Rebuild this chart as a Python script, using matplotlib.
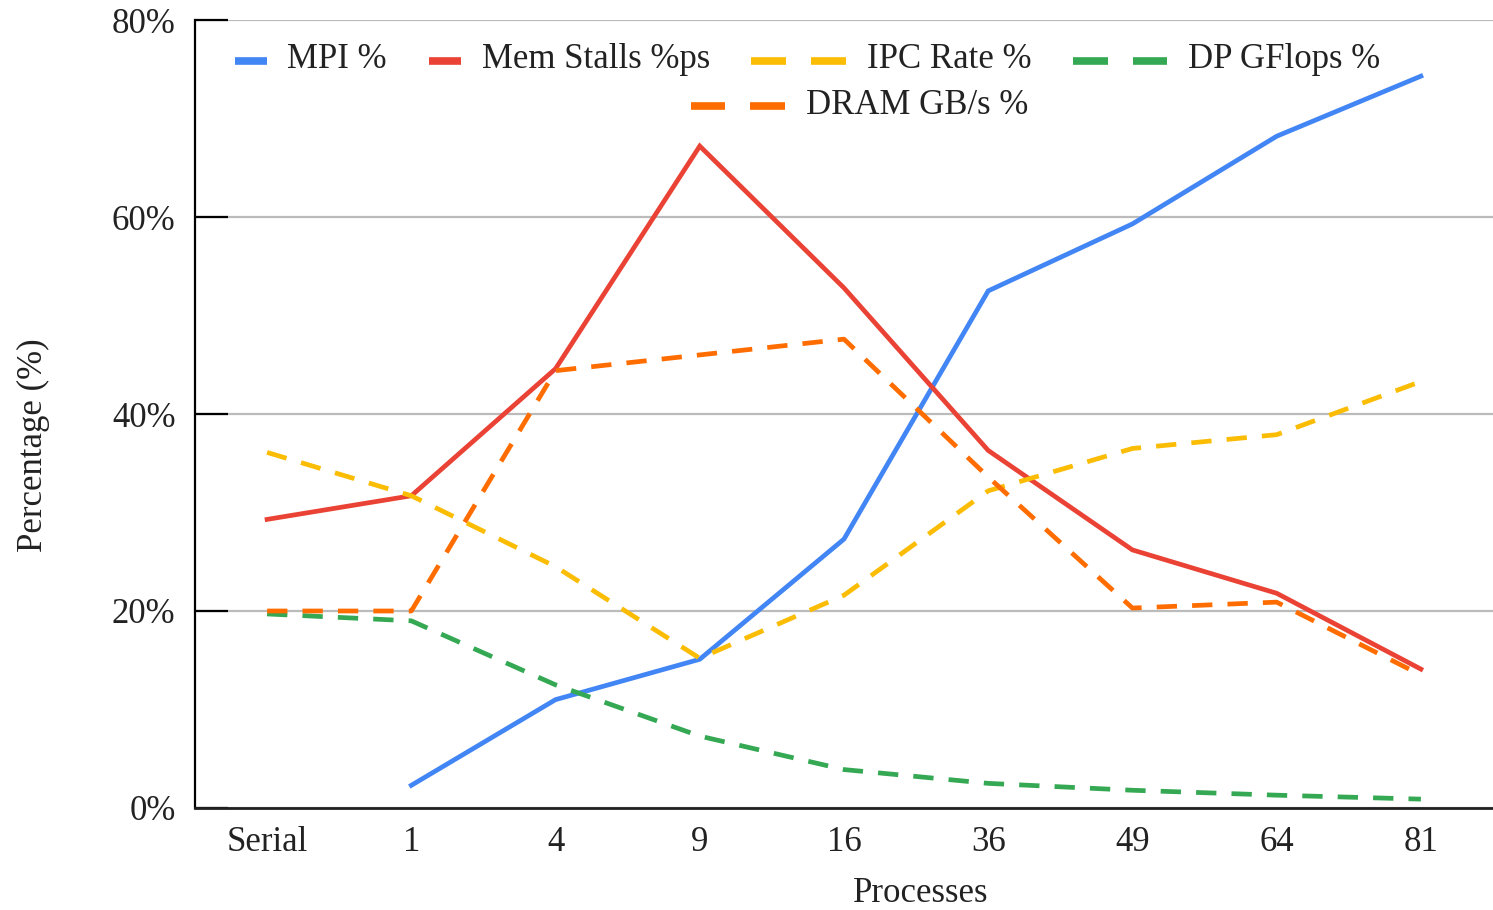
import matplotlib
matplotlib.use("Agg")
import matplotlib.pyplot as plt
import numpy as np
from matplotlib.lines import Line2D
from matplotlib.offsetbox import (AnchoredOffsetbox, DrawingArea, HPacker,
                                  TextArea)

plt.rcParams['font.family'] = ['Liberation Serif', 'DejaVu Serif']

# data
processes = ['Serial', '1', '4', '9', '16', '36', '49', '64', '81']
mpi = [np.nan, 2.3, 11.0, 15.1, 27.3, 52.5, 59.3, 68.2, 74.3]
mem_stalls = [29.3, 31.7, 44.6, 67.2, 52.8, 36.3, 26.2, 21.8, 14.1]
ipc_rate = [36.1, 31.7, 24.5, 15.2, 21.6, 32.2, 36.5, 37.9, 43.3]
dp_gflops = [19.7, 19.0, 12.5, 7.3, 3.9, 2.5, 1.8, 1.3, 0.9]
dram = [20.0, 20.0, 44.4, 46.0, 47.6, 33.6, 20.3, 20.9, 13.5]

series = [
    ('MPI %', mpi, '#4285f4', False),
    ('Mem Stalls %ps', mem_stalls, '#ea4335', False),
    ('IPC Rate %', ipc_rate, '#fbbc04', True),
    ('DP GFlops %', dp_gflops, '#34a853', True),
    ('DRAM GB/s %', dram, '#ff6d01', True),
]

fig = plt.figure(figsize=(14.93, 9.10), dpi=100)
ax = fig.add_axes([0.1306, 0.1121, 0.8694, 0.8659])

x = np.arange(len(processes))
for label, vals, color, dashed in series:
    ls = (0, (4.3, 3.2)) if dashed else '-'
    ax.plot(x, vals, color=color, lw=3.4, linestyle=ls,
            dash_capstyle='butt', solid_joinstyle='miter', zorder=3)

ax.set_xlim(-0.5, len(processes) - 0.5)
ax.set_ylim(0, 80)
ax.set_yticks([0, 20, 40, 60, 80])
ax.set_yticklabels(['0%', '20%', '40%', '60%', '80%'])
ax.set_xticks(x)
ax.set_xticklabels(processes)

ax.grid(axis='y', color='#bbbbbb', lw=1.6, zorder=1)
ax.set_axisbelow(True)
ax.tick_params(axis='y', direction='in', length=24, width=1.6, color='black',
               labelsize=25, pad=14, labelcolor='#222222')
ax.tick_params(axis='x', length=0, labelsize=25, pad=13, labelcolor='#222222')

for side in ['top', 'right']:
    ax.spines[side].set_visible(False)
ax.spines['left'].set_linewidth(1.6)
ax.spines['bottom'].set_linewidth(2.0)
ax.spines['left'].set_color('black')
ax.spines['bottom'].set_color('#222222')

ax.set_xlabel('Processes', fontsize=25, color='#222222')
ax.xaxis.set_label_coords(0.559, -0.087)
ax.set_ylabel('Percentage (%)', fontsize=25, color='#222222')
ax.yaxis.set_label_coords(-0.112, 0.46)


# legend built by hand so solid items get a short key and dashed ones two dashes
def legend_item(label, color, dashed):
    if dashed:
        da = DrawingArea(68, 12, 0, 0)
        da.add_artist(Line2D([0, 25], [5, 5], color=color, lw=5.5,
                             solid_capstyle='butt'))
        da.add_artist(Line2D([43, 68], [5, 5], color=color, lw=5.5,
                             solid_capstyle='butt'))
    else:
        da = DrawingArea(23, 12, 0, 0)
        da.add_artist(Line2D([0, 23], [5, 5], color=color, lw=5.5,
                             solid_capstyle='butt'))
    txt = TextArea(label, textprops=dict(fontsize=25, color='#222222'))
    return HPacker(children=[da, txt], align='center', pad=0, sep=15)


row1 = HPacker(children=[legend_item(l, c, d) for l, _, c, d in series[:4]],
               align='center', pad=0, sep=30)
row2 = HPacker(children=[legend_item(l, c, d) for l, _, c, d in series[4:]],
               align='center', pad=0, sep=30)

box1 = AnchoredOffsetbox(loc='upper center', child=row1, frameon=False,
                         bbox_to_anchor=(0.472, 0.971),
                         bbox_transform=ax.transAxes, pad=0, borderpad=0)
box2 = AnchoredOffsetbox(loc='upper center', child=row2, frameon=False,
                         bbox_to_anchor=(0.512, 0.913),
                         bbox_transform=ax.transAxes, pad=0, borderpad=0)
ax.add_artist(box1)
ax.add_artist(box2)

fig.savefig('out.png', dpi=100, facecolor='white')
